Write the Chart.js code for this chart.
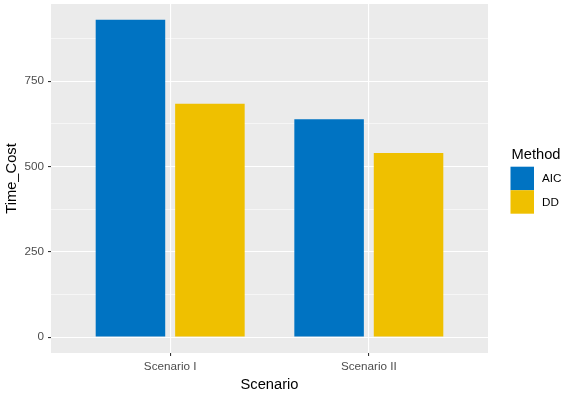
<!DOCTYPE html>
<html>
<head>
<meta charset="utf-8">
<script src="https://cdn.jsdelivr.net/npm/chart.js@4/dist/chart.umd.min.js"></script>
<style>
  html, body { margin: 0; padding: 0; background: #ffffff; }
  #wrap { width: 566px; height: 394px; }
</style>
</head>
<body>
<div id="wrap"><canvas id="c" width="566" height="394"></canvas></div>
<script>
const categories = ['Scenario I', 'Scenario II'];
const methods = ['AIC', 'DD'];
const aicValues = [930, 639];
const ddValues = [684, 540];
const majorTicks = [0, 250, 500, 750];
const minorTicks = [125, 375, 625, 875];
const methodColors = ['#0073C2', '#EFC000'];

const FONT = "'Liberation Sans', Arial, sans-serif";

const toPoints = vals => vals.map((v, i) => ({ x: i + 1, y: v }));

const panelBg = {
  id: 'panelBg',
  beforeDraw(chart) {
    const { ctx, chartArea: a } = chart;
    ctx.save();
    ctx.fillStyle = '#EBEBEB';
    ctx.fillRect(a.left, a.top, a.right - a.left, a.bottom - a.top);
    ctx.restore();
  }
};

const ggLegend = {
  id: 'ggLegend',
  afterDraw(chart) {
    const { ctx } = chart;
    const x0 = 510.5, top = 166.7, key = 23.5;
    ctx.save();
    ctx.fillStyle = '#000000';
    ctx.font = '14.7px ' + FONT;
    ctx.textBaseline = 'alphabetic';
    ctx.textAlign = 'left';
    ctx.fillText('Method', x0 + 1, 158.5);
    chart.data.datasets.forEach((ds, i) => {
      const y = top + i * key;
      ctx.fillStyle = ds.backgroundColor;
      ctx.fillRect(x0, y, key, key);
      ctx.fillStyle = '#000000';
      ctx.font = '11.7px ' + FONT;
      ctx.textBaseline = 'middle';
      ctx.fillText(ds.label, x0 + key + 8, y + key / 2 + 0.5);
    });
    ctx.restore();
  }
};

new Chart(document.getElementById('c'), {
  type: 'bar',
  data: {
    datasets: [
      { label: methods[0], data: toPoints(aicValues), backgroundColor: methodColors[0], borderWidth: 0 },
      { label: methods[1], data: toPoints(ddValues), backgroundColor: methodColors[1], borderWidth: 0 }
    ]
  },
  options: {
    responsive: false,
    devicePixelRatio: 1,
    animation: false,
    categoryPercentage: 0.8,
    barPercentage: 0.875,
    layout: { padding: { left: 0, top: 4, right: 78, bottom: 0 } },
    plugins: {
      legend: { display: false },
      tooltip: { enabled: false }
    },
    scales: {
      x: {
        type: 'linear',
        min: 0.4,
        max: 2.6,
        offset: false,
        afterBuildTicks(scale) { scale.ticks = categories.map((c, i) => ({ value: i + 1 })); },
        afterFit(scale) { scale.height = 41; scale.paddingLeft = 0; scale.paddingRight = 0; },
        border: { display: false },
        grid: {
          offset: false,
          color: '#FFFFFF',
          lineWidth: 1.1,
          drawTicks: true,
          tickLength: 3,
          tickColor: '#333333',
          tickWidth: 1.1
        },
        ticks: {
          autoSkip: false,
          maxRotation: 0,
          padding: 4,
          color: '#4D4D4D',
          font: { family: FONT, size: 11.7 },
          callback: v => categories[Math.round(v) - 1] || ''
        },
        title: {
          display: true,
          text: 'Scenario',
          color: '#000000',
          font: { family: FONT, size: 14.7 },
          padding: { top: 0, bottom: 0 }
        }
      },
      y: {
        type: 'linear',
        min: -46.5,
        max: 976.5,
        afterBuildTicks(scale) {
          scale.ticks = majorTicks.concat(minorTicks).sort((a, b) => a - b).map(v => ({ value: v }));
        },
        afterFit(scale) { scale.width = 51; scale.paddingTop = 0; scale.paddingBottom = 0; },
        border: { display: false },
        grid: {
          color: '#FFFFFF',
          lineWidth: ctx => majorTicks.includes(ctx.tick && ctx.tick.value) ? 1.1 : 0.55,
          drawTicks: true,
          tickLength: 3,
          tickColor: ctx => majorTicks.includes(ctx.tick && ctx.tick.value) ? '#333333' : 'rgba(0,0,0,0)',
          tickWidth: 1.1
        },
        ticks: {
          autoSkip: false,
          padding: 4,
          color: '#4D4D4D',
          font: { family: FONT, size: 11.7 },
          callback: v => majorTicks.includes(v) ? String(v) : ''
        },
        title: {
          display: true,
          text: 'Time_Cost',
          color: '#000000',
          font: { family: FONT, size: 14.7 },
          padding: { top: 3, bottom: 0 }
        }
      }
    }
  },
  plugins: [panelBg, ggLegend]
});
</script>
</body>
</html>
